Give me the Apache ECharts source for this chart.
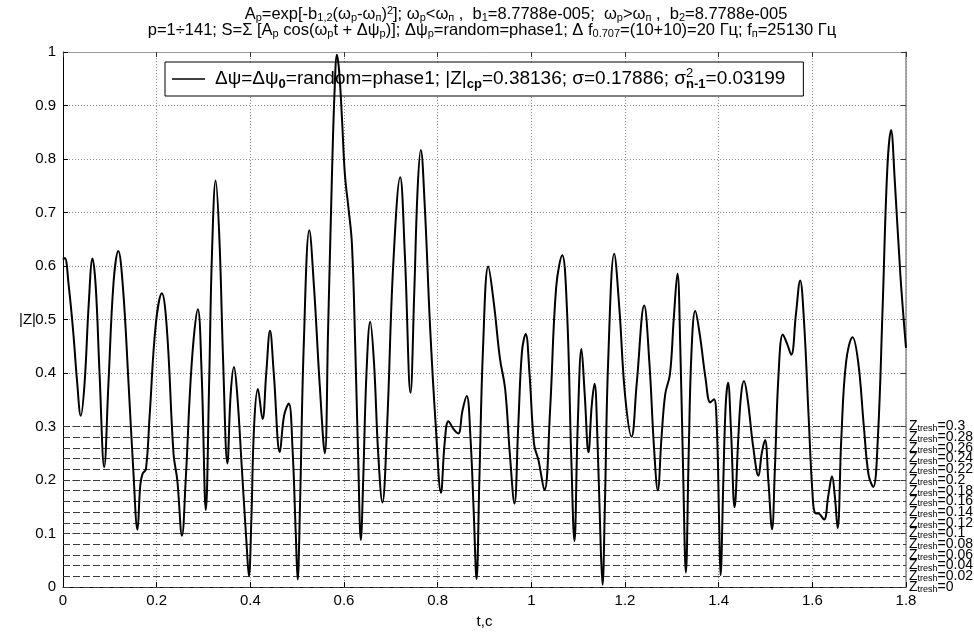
<!DOCTYPE html>
<html>
<head>
<meta charset="utf-8">
<script src="https://cdn.jsdelivr.net/npm/echarts@6/dist/echarts.min.js"></script>
<style>
  html, body { margin: 0; padding: 0; background: #fff; }
  #chart { width: 974px; height: 634px; }
</style>
</head>
<body>
<div id="chart"></div>
<script>
// Time samples, s
const tValues = [
  0.000, 0.004, 0.012, 0.022, 0.030, 0.038, 0.046, 0.055, 0.063, 0.070,
  0.078, 0.088, 0.097, 0.108, 0.118, 0.128, 0.140, 0.150, 0.159, 0.165,
  0.170, 0.177, 0.185, 0.198, 0.211, 0.222, 0.236, 0.244, 0.254, 0.262,
  0.275, 0.288, 0.296, 0.305, 0.312, 0.318, 0.326, 0.334, 0.342, 0.351,
  0.358, 0.365, 0.372, 0.382, 0.392, 0.397, 0.402, 0.408, 0.416, 0.426,
  0.434, 0.442, 0.450, 0.463, 0.472, 0.482, 0.490, 0.497, 0.501, 0.506,
  0.514, 0.526, 0.536, 0.548, 0.559, 0.566, 0.574, 0.580, 0.585, 0.590,
  0.596, 0.602, 0.610, 0.617, 0.624, 0.630, 0.636, 0.641, 0.648, 0.656,
  0.664, 0.673, 0.682, 0.692, 0.705, 0.720, 0.730, 0.742, 0.750, 0.757,
  0.764, 0.772, 0.784, 0.796, 0.807, 0.815, 0.823, 0.834, 0.844, 0.853,
  0.862, 0.870, 0.877, 0.883, 0.889, 0.897, 0.908, 0.920, 0.933, 0.944,
  0.954, 0.964, 0.972, 0.980, 0.988, 0.996, 1.006, 1.015, 1.028, 1.040,
  1.053, 1.066, 1.076, 1.085, 1.092, 1.099, 1.107, 1.114, 1.122, 1.129,
  1.135, 1.141, 1.148, 1.152, 1.157, 1.164, 1.177, 1.188, 1.200, 1.214,
  1.225, 1.241, 1.252, 1.262, 1.270, 1.278, 1.286, 1.296, 1.304, 1.312,
  1.318, 1.324, 1.330, 1.336, 1.342, 1.350, 1.360, 1.372, 1.382, 1.390,
  1.396, 1.401, 1.404, 1.410, 1.415, 1.420, 1.426, 1.434, 1.442, 1.448,
  1.454, 1.462, 1.474, 1.485, 1.492, 1.499, 1.506, 1.514, 1.520, 1.528,
  1.537, 1.546, 1.555, 1.565, 1.574, 1.582, 1.592, 1.600, 1.606, 1.614,
  1.625, 1.634, 1.642, 1.648, 1.654, 1.662, 1.672, 1.686, 1.698, 1.710,
  1.720, 1.730, 1.740, 1.750, 1.760, 1.768, 1.776, 1.788, 1.800
];

// Envelope magnitude |Z| at each sample
const zValues = [
  0.612, 0.615, 0.565, 0.475, 0.385, 0.320, 0.380, 0.530, 0.614, 0.560,
  0.400, 0.224, 0.380, 0.570, 0.628, 0.560, 0.380, 0.220, 0.107, 0.190,
  0.212, 0.220, 0.320, 0.490, 0.549, 0.480, 0.249, 0.200, 0.096, 0.200,
  0.420, 0.519, 0.400, 0.144, 0.380, 0.620, 0.760, 0.650, 0.420, 0.231,
  0.360, 0.411, 0.360, 0.220, 0.080, 0.020, 0.120, 0.300, 0.370, 0.314,
  0.400, 0.479, 0.400, 0.252, 0.320, 0.343, 0.260, 0.100, 0.014, 0.150,
  0.450, 0.667, 0.560, 0.380, 0.250, 0.480, 0.760, 0.930, 0.995, 0.960,
  0.870, 0.770, 0.705, 0.640, 0.450, 0.250, 0.088, 0.200, 0.400, 0.496,
  0.420, 0.250, 0.158, 0.300, 0.600, 0.766, 0.620, 0.363, 0.550, 0.740,
  0.817, 0.720, 0.483, 0.300, 0.176, 0.270, 0.310, 0.295, 0.287, 0.330,
  0.357, 0.280, 0.140, 0.015, 0.200, 0.450, 0.599, 0.530, 0.427, 0.371,
  0.250, 0.156, 0.300, 0.440, 0.473, 0.400, 0.266, 0.238, 0.181, 0.330,
  0.560, 0.620, 0.520, 0.250, 0.086, 0.300, 0.445, 0.360, 0.252, 0.340,
  0.380, 0.280, 0.080, 0.004, 0.150, 0.420, 0.623, 0.520, 0.360, 0.281,
  0.380, 0.526, 0.420, 0.260, 0.181, 0.280, 0.361, 0.398, 0.500, 0.586,
  0.450, 0.220, 0.027, 0.250, 0.440, 0.516, 0.470, 0.390, 0.345, 0.351,
  0.300, 0.120, 0.022, 0.200, 0.340, 0.382, 0.300, 0.149, 0.280, 0.360,
  0.385, 0.350, 0.260, 0.208, 0.250, 0.275, 0.200, 0.108, 0.220, 0.400,
  0.472, 0.455, 0.434, 0.510, 0.573, 0.500, 0.320, 0.180, 0.138, 0.137,
  0.126, 0.170, 0.207, 0.170, 0.110, 0.280, 0.420, 0.467, 0.420, 0.300,
  0.210, 0.187, 0.280, 0.520, 0.780, 0.854, 0.760, 0.583, 0.447
];

// Detection thresholds drawn as dashed lines
const thresholds = [0.3, 0.28, 0.26, 0.24, 0.22, 0.2, 0.18, 0.16, 0.14, 0.12, 0.1, 0.08, 0.06, 0.04, 0.02, 0];

// Axis ranges and tick steps
const xRange = [0, 1.8];
const xStep = 0.2;
const yRange = [0, 1];
const yStep = 0.1;

// Statistics shown in the legend
const statMean = '0.38136';
const statSigma = '0.17886';
const statVar = '0.03199';

const FONT = '"Liberation Sans", Arial, Helvetica, sans-serif';

const titleRich = {
  n: { fontFamily: FONT, fontSize: 16.5, fontWeight: 'normal', color: '#000', lineHeight: 18 },
  s: { fontFamily: FONT, fontSize: 11, fontWeight: 'normal', color: '#000', verticalAlign: 'bottom' },
  u: { fontFamily: FONT, fontSize: 11, fontWeight: 'normal', color: '#000', verticalAlign: 'top' }
};

const titleLine1 =
  '{n|A}{s|p}{n|=exp[-b}{s|1,2}{n|(ω}{s|p}{n|-ω}{s|п}{n|)}{u|2}{n|]; ω}{s|p}{n|<ω}{s|п}' +
  '{n| ,  b}{s|1}{n|=8.7788e-005;  ω}{s|p}{n|>ω}{s|п}{n| ,  b}{s|2}{n|=8.7788e-005}';
const titleLine2 =
  '{n|p=1÷141; S=Σ [A}{s|p}{n| cos(ω}{s|p}{n|t + Δψ}{s|p}{n|)]; Δψ}{s|p}' +
  '{n|=random=phase1; Δ f}{s|0.707}{n|=(10+10)=20 Гц; f}{s|п}{n|=25130 Гц}';

const seriesName = 'Δψ=Δψ0=random=phase1';
const legendText =
  '{g|}{n|Δψ=Δψ}{s|0}{n|=random=phase1; |Z|}{s|cp}{n|=' + statMean +
  '; σ=' + statSigma + '; σ}{u|2}{s|n-1}{n|=' + statVar + '}';

const chart = echarts.init(document.getElementById('chart'), null, { renderer: 'canvas' });

const option = {
  animation: false,
  backgroundColor: '#fff',
  title: [
    { text: titleLine1, left: 516, top: 5, padding: 0, textAlign: 'center',
      textStyle: { fontWeight: 'normal', rich: titleRich } },
    { text: titleLine2, left: 492, top: 21, padding: 0, textAlign: 'center',
      textStyle: { fontWeight: 'normal', rich: titleRich } }
  ],
  legend: {
    left: 165,
    top: 62,
    padding: [5, 18, 5, 7],
    orient: 'horizontal',
    backgroundColor: '#fff',
    borderColor: '#000',
    borderWidth: 1,
    borderRadius: 0,
    itemWidth: 33,
    itemHeight: 1.5,
    selectedMode: false,
    data: [{ name: seriesName, icon: 'rect', itemStyle: { color: '#000' } }],
    formatter: function () { return legendText; },
    textStyle: {
      fontFamily: FONT,
      rich: {
        g: { width: 5 },
        n: { fontFamily: FONT, fontSize: 19, color: '#000', lineHeight: 24 },
        s: { fontFamily: FONT, fontSize: 13, fontWeight: 'bold', color: '#000', verticalAlign: 'bottom' },
        u: { fontFamily: FONT, fontSize: 13, color: '#000', verticalAlign: 'top', width: 0.01, align: 'left' }
      }
    }
  },
  grid: { left: 63, top: 52, width: 843, height: 539, containLabel: false },
  xAxis: [
    {
      type: 'value', position: 'bottom', min: xRange[0], max: xRange[1], interval: xStep,
      name: 't,c', nameLocation: 'middle', nameGap: 27, nameMoveOverlap: false,
      nameTextStyle: { fontFamily: FONT, fontSize: 15, color: '#000' },
      axisLine: { show: true, onZero: false, lineStyle: { color: '#000', width: 1 } },
      axisTick: { show: true, inside: true, length: 5, lineStyle: { color: '#000' } },
      axisLabel: { fontFamily: FONT, fontSize: 15, color: '#000', margin: 6 },
      splitLine: { show: true, lineStyle: { color: '#8a8a8a', type: [1, 2], width: 1 } }
    },
    {
      type: 'value', position: 'top', min: xRange[0], max: xRange[1], interval: xStep,
      axisLine: { show: true, onZero: false, lineStyle: { color: '#9a9a9a', width: 1 } },
      axisTick: { show: true, inside: true, length: 5, lineStyle: { color: '#333' } },
      axisLabel: { show: false },
      splitLine: { show: false }
    }
  ],
  yAxis: [
    {
      type: 'value', position: 'left', min: yRange[0], max: yRange[1], interval: yStep,
      name: '|Z|', nameLocation: 'middle', nameGap: 27, nameRotate: 0, nameMoveOverlap: false,
      nameTextStyle: { fontFamily: FONT, fontSize: 15, color: '#000' },
      axisLine: { show: true, onZero: false, lineStyle: { color: '#000', width: 1 } },
      axisTick: { show: true, inside: true, length: 5, lineStyle: { color: '#000' } },
      axisLabel: { fontFamily: FONT, fontSize: 15, color: '#000', margin: 7 },
      splitLine: { show: true, lineStyle: { color: '#8a8a8a', type: [1, 2], width: 1 } }
    },
    {
      type: 'value', position: 'right', min: yRange[0], max: yRange[1], interval: yStep,
      axisLine: { show: true, onZero: false, lineStyle: { color: '#8a8a8a', width: 1.5 } },
      axisTick: { show: true, inside: true, length: 5, lineStyle: { color: '#333' } },
      axisLabel: { show: false },
      splitLine: { show: false }
    }
  ],
  series: [
    {
      name: seriesName,
      type: 'line',
      xAxisIndex: 0,
      yAxisIndex: 0,
      z: 10,
      data: tValues.map((t, i) => [t, zValues[i]]),
      showSymbol: false,
      symbol: 'none',
      smooth: 0.4,
      lineStyle: { color: '#000', width: 2 },
      itemStyle: { color: '#000' },
      markLine: {
        silent: true,
        symbol: 'none',
        animation: false,
        lineStyle: { color: '#3c3c3c', type: [7, 3], width: 1 },
        label: {
          show: true,
          position: 'end',
          distance: 3,
          formatter: function (p) { return '{z|Z}{t|tresh}{v|=' + p.value + '}'; },
          rich: {
            z: { fontFamily: FONT, fontSize: 14, color: '#000', lineHeight: 14 },
            t: { fontFamily: FONT, fontSize: 9, color: '#000', verticalAlign: 'bottom' },
            v: { fontFamily: FONT, fontSize: 14, color: '#000', lineHeight: 14 }
          }
        },
        emphasis: { disabled: true },
        data: thresholds.map(v => ({ yAxis: v }))
      }
    }
  ]
};

chart.setOption(option);
</script>
</body>
</html>
